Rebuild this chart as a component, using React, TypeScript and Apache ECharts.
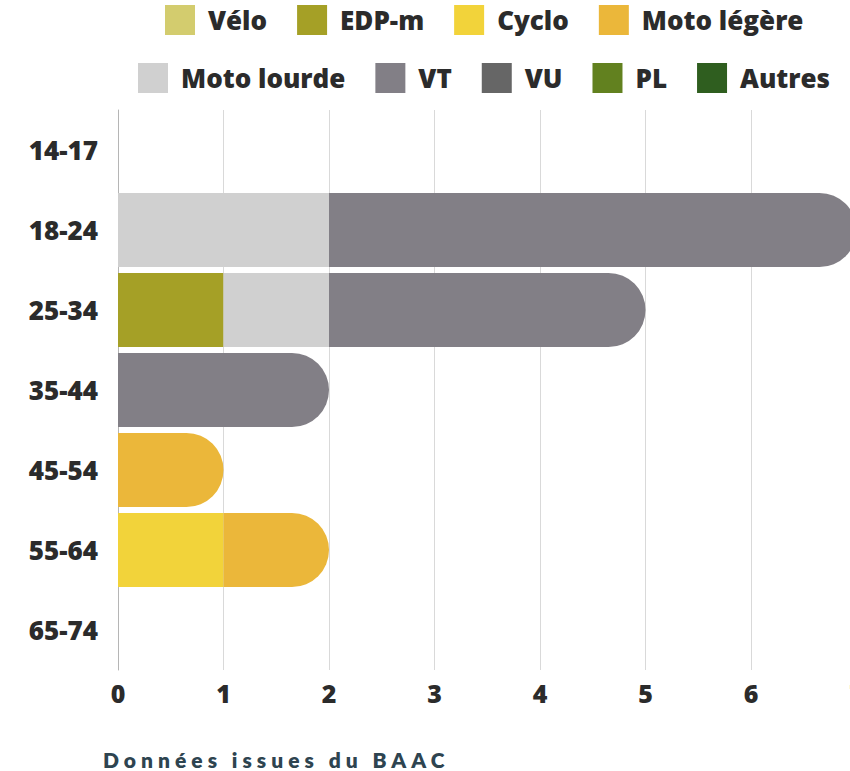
import React, { useEffect, useRef } from "react";
import * as echarts from "echarts";

const categories = ["14-17", "18-24", "25-34", "35-44", "45-54", "55-64", "65-74"];
const seriesNames = ["Vélo", "EDP-m", "Cyclo", "Moto légère", "Moto lourde", "VT", "VU", "PL", "Autres"];
const colors = ["#d3cc6e", "#a5a026", "#f2d33a", "#ebb73a", "#d0d0d0", "#827f86", "#666666", "#62811f", "#2f5e1f"];
const velo = [0, 0, 0, 0, 0, 0, 0];
const edpm = [0, 0, 1, 0, 0, 0, 0];
const cyclo = [0, 0, 0, 0, 0, 1, 0];
const motoLegere = [0, 0, 0, 0, 1, 1, 0];
const motoLourde = [0, 2, 1, 0, 0, 0, 0];
const vt = [0, 5, 3, 2, 0, 0, 0];
const vu = [0, 0, 0, 0, 0, 0, 0];
const pl = [0, 0, 0, 0, 0, 0, 0];
const autres = [0, 0, 0, 0, 0, 0, 0];
const xTicks = [0, 1, 2, 3, 4, 5, 6, 7];

const allValues = [velo, edpm, cyclo, motoLegere, motoLourde, vt, vu, pl, autres];

export default function App() {
  const ref = useRef<HTMLDivElement>(null);
  useEffect(() => {
    if (!ref.current) return;
    const chart = echarts.init(ref.current, undefined, { renderer: "svg" });
    const barW = 74;
    const r = barW / 2;
    const lastIdx = categories.map((_, ci) => {
      let last = -1;
      allValues.forEach((arr, si) => {
        if (arr[ci] > 0) last = si;
      });
      return last;
    });
    const series = seriesNames.map((name, si) => ({
      name,
      type: "bar",
      stack: "total",
      barWidth: barW,
      itemStyle: { color: colors[si] },
      data: allValues[si].map((v, ci) => ({
        value: v,
        itemStyle: lastIdx[ci] === si ? { borderRadius: [0, r, r, 0] } : { borderRadius: 0 },
      })),
    }));
    const legendText = {
      fontFamily: "Open Sans",
      fontWeight: 800,
      fontSize: 26,
      color: "#2b2b2b",
      padding: [0, 0, 0, 8],
    };
    const legendBase = {
      itemWidth: 30,
      itemHeight: 30,
      itemGap: 30,
      padding: 0,
      icon: "rect",
      textStyle: legendText,
      selectedMode: false,
    };
    chart.setOption({
      animation: false,
      color: colors,
      legend: [
        { ...legendBase, data: seriesNames.slice(0, 4), left: 165, top: 5 },
        { ...legendBase, data: seriesNames.slice(4), left: 138, top: 63 },
      ],
      grid: { left: 118, right: 13.5, top: 110, bottom: 101, containLabel: false },
      xAxis: {
        type: "value",
        min: 0,
        max: xTicks[xTicks.length - 1],
        interval: 1,
        axisLine: { show: false },
        axisTick: { show: false },
        splitLine: { show: true, lineStyle: { color: "#d9d9d9", width: 1 } },
        axisLabel: {
          fontFamily: "Open Sans",
          fontWeight: 800,
          fontSize: 25,
          color: "#2b2b2b",
          margin: 10,
        },
      },
      yAxis: {
        type: "category",
        data: categories,
        inverse: true,
        axisLine: { show: true, lineStyle: { color: "#b5b5b5", width: 1 } },
        axisTick: { show: false },
        axisLabel: {
          fontFamily: "Open Sans",
          fontWeight: 800,
          fontSize: 26,
          color: "#2b2b2b",
          margin: 20,
        },
      },
      series,
    });
    return () => chart.dispose();
  }, []);
  return (
    <div style={{ position: "absolute", left: 0, top: 0, width: 850, height: 771, overflow: "hidden", background: "#fff" }}>
      <div ref={ref} style={{ position: "absolute", left: 0, top: 0, width: 870, height: 771 }} />
      <div
        style={{
          position: "absolute",
          left: 103,
          top: 747,
          fontFamily: "Lato, 'Open Sans', sans-serif",
          fontWeight: 800,
          fontSize: 21,
          letterSpacing: "5px",
          color: "#2e4450",
          whiteSpace: "nowrap",
          lineHeight: "26px",
        }}
      >
        Données issues du BAAC
      </div>
    </div>
  );
}
